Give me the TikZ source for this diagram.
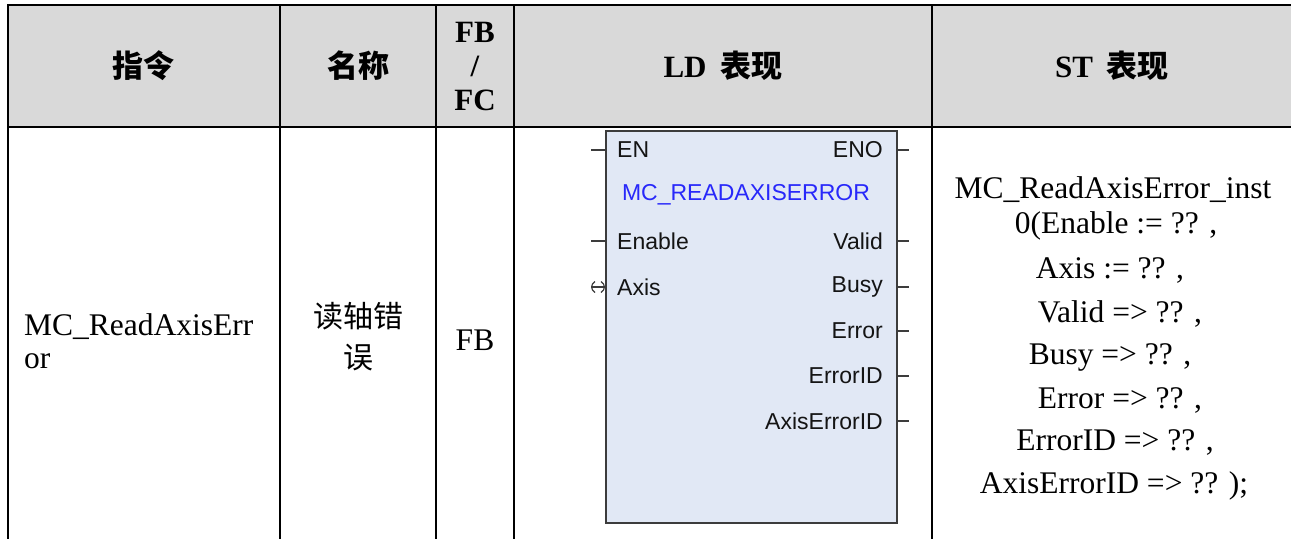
\documentclass[tikz,border=0pt]{standalone}
\usepackage{fontspec}
\setmainfont{Liberation Serif}
\newfontfamily\cjk{Noto Sans CJK SC}
\newfontfamily\arialf{Liberation Sans}
\definecolor{headgray}{RGB}{217,217,217}
\definecolor{fbfill}{RGB}{225,232,245}
\definecolor{fbblue}{RGB}{40,40,250}
\definecolor{fbedge}{RGB}{60,60,60}
\tikzset{
  tabline/.style={line width=2.5pt, black},
  head/.style={font=\fontsize{31}{34}\selectfont\bfseries, inner sep=0pt},
  cell/.style={font=\fontsize{31.5}{33}\selectfont, inner sep=0pt},
  pin/.style={font=\arialf\fontsize{23}{26}\selectfont, text=black!92, inner sep=0pt},
  lead/.style={line width=1.5pt, fbedge},
}

\begin{document}
\begin{tikzpicture}[x=1pt,y=-1pt]
\useasboundingbox (0,0) rectangle (1291,539);
\fill[headgray] (8,5) rectangle (1291,127);
\draw[tabline] (1291,5) -- (8,5) -- (8,539);
\draw[tabline] (8,127) -- (1291,127);
\foreach \cx in {280,436,514,932}
  \draw[tabline] (\cx,5) -- (\cx,539);

\node[head] (hinstr) at (143,66) {\cjk 指令};
\node[head] (hname) at (358,66) {\cjk 名称};
\node[head, align=center] (hfb) at (475,66) {FB\\/\\FC};
\node[head] (hld) at (723,66) {LD\hspace{0.45em}{\cjk 表现}};
\node[head] (hst) at (1112,66) {ST\hspace{0.45em}{\cjk 表现}};

\node[cell, align=left, anchor=west] (instr) at (24,341) {MC\_ReadAxisErr\\or};
\node[cell, align=center, font=\cjk\fontsize{30}{41}\selectfont] (name) at (358,337) {读轴错\\误};
\node[cell] (fbtype) at (475,340) {FB};

\node[draw=fbedge, line width=2pt, fill=fbfill, minimum width=291pt, minimum height=392pt, inner sep=0pt] (fb) at (751.5,327) {};
\node[pin, text=fbblue] (title) at (746,195) {MC\_READAXISERROR};
\node[pin, anchor=west] (en) at (617,150) {EN};
\node[pin, anchor=west] (enable) at (617,241) {Enable};
\node[pin, anchor=west] (axis) at (617,287) {Axis};
\node[pin, anchor=east] (eno) at (883,150) {ENO};
\node[pin, anchor=east] (valid) at (883,241) {Valid};
\node[pin, anchor=east] (busy) at (883,287) {Busy};
\node[pin, anchor=east] (error) at (883,331) {Error};
\node[pin, anchor=east] (errorid) at (883,376) {ErrorID};
\node[pin, anchor=east] (axiserrorid) at (883,421) {AxisErrorID};
\foreach \p in {en,enable}
  \draw[lead] (fb.west |- \p) -- ++(-14,0);
\foreach \p in {eno,valid,busy,error,errorid,axiserrorid}
  \draw[lead] (fb.east |- \p) -- ++(11,0);
\draw[fbedge, line width=1.2pt] (fb.west |- axis) -- ++(-13,0);
\draw[fbedge, line width=1.2pt] (595,281.5) .. controls (590.5,284) and (590.5,290) .. (595,292.5);
\draw[fbedge, line width=1.2pt] (601,281.5) .. controls (605.5,284) and (605.5,290) .. (601,292.5);

\node[cell] (st1) at (1113,190) {MC\_ReadAxisError\_inst};
\node[cell] (st2) at (1116,226) {0(Enable := ?? ,};
\node[cell] (st3) at (1110,270) {Axis := ?? ,};
\node[cell] (st4) at (1120,314) {Valid => ?? ,};
\node[cell] (st5) at (1110,357) {Busy => ?? ,};
\node[cell] (st6) at (1120,400) {Error => ?? ,};
\node[cell] (st7) at (1115,442) {ErrorID => ?? ,};
\node[cell] (st8) at (1114,486) {AxisErrorID => ?? );};
\end{tikzpicture}
\end{document}
